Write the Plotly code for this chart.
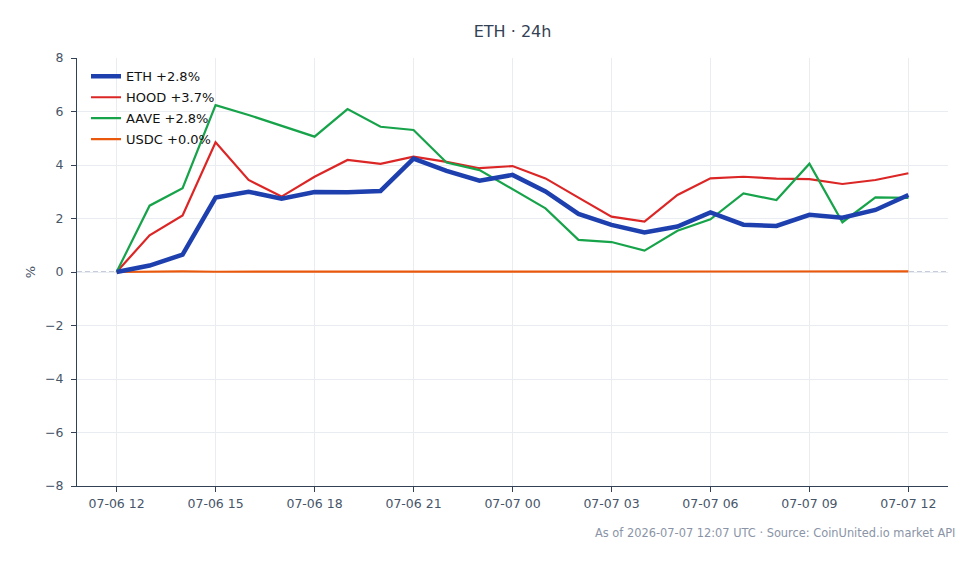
import plotly.graph_objects as go
import pandas as pd

times = pd.date_range("2026-07-06 12:00", "2026-07-07 12:00", freq="1h")

eth = [0.00, 0.24, 0.65, 2.78, 3.00, 2.74, 2.99, 2.98, 3.03, 4.24, 3.78, 3.41, 3.63,
       3.01, 2.17, 1.76, 1.48, 1.70, 2.23, 1.77, 1.72, 2.14, 2.03, 2.32, 2.88]
hood = [0.00, 1.37, 2.11, 4.85, 3.44, 2.82, 3.56, 4.19, 4.04, 4.31, 4.12, 3.88, 3.96,
        3.50, 2.78, 2.07, 1.88, 2.88, 3.50, 3.56, 3.49, 3.47, 3.29, 3.44, 3.69]
aave = [0.00, 2.48, 3.13, 6.24, 5.87, 5.46, 5.06, 6.09, 5.43, 5.31, 4.09, 3.81, 3.10,
        2.38, 1.20, 1.12, 0.80, 1.54, 1.97, 2.94, 2.69, 4.05, 1.86, 2.79, 2.77]
usdc = [0.00, 0.02, 0.02, 0.01, 0.01, 0.01, 0.01, 0.00, 0.00, 0.00, 0.00, 0.00, 0.00,
        0.00, 0.00, 0.00, 0.00, 0.00, 0.00, 0.00, 0.01, 0.01, 0.01, 0.01, 0.02]

names = ["ETH +2.8%", "HOOD +3.7%", "AAVE +2.8%", "USDC +0.0%"]
colors = ["#1e40af", "#dc2626", "#16a34a", "#ea580c"]
widths = [4.5, 2.2, 2.2, 2.2]
series = [eth, hood, aave, usdc]

FONT = "DejaVu Sans"
fig = go.Figure()

# draw ETH last so it sits on top, but keep legend order
draw_order = [1, 2, 3, 0]
for i in draw_order:
    fig.add_trace(go.Scatter(
        x=times, y=series[i], mode="lines", name=names[i],
        line=dict(color=colors[i], width=widths[i]),
        legendrank=i + 1, legendgroup=f"g{i}",
    ))

x0 = times[0] - pd.Timedelta(minutes=72)
x1 = times[-1] + pd.Timedelta(minutes=72)

fig.add_shape(type="line", xref="paper", yref="y", x0=0, x1=1, y0=0, y1=0,
              line=dict(color="#8f9bb0", width=1, dash="5px,3px"), layer="below")

fig.update_layout(
    width=980, height=564,
    margin=dict(l=77, r=32, t=58, b=78),
    paper_bgcolor="white", plot_bgcolor="white",
    font=dict(family=FONT, size=12.5, color="#475569"),
    title=dict(text="ETH · 24h", x=0.523, xanchor="center", y=0.945, yanchor="middle",
               font=dict(family=FONT, size=16, color="#334155")),
    showlegend=True,
    legend=dict(x=9 / 871, y=0.992, xanchor="left", yanchor="top",
                bgcolor="rgba(0,0,0,0)", font=dict(family=FONT, size=13, color="#111111"),
                tracegroupgap=1, itemwidth=30),
    hovermode=False,
)

fig.update_xaxes(
    range=[x0, x1], type="date",
    tick0=times[0], dtick=3 * 3600 * 1000, tickformat="%m-%d %H",
    showgrid=True, gridcolor="#e9edf2", gridwidth=1,
    showline=True, linecolor="#334155", linewidth=1,
    ticks="outside", ticklen=5, tickcolor="#334155",
    tickfont=dict(family=FONT, size=12.5, color="#475569"),
    ticklabelstandoff=1,
    zeroline=False,
)
fig.update_yaxes(
    range=[-8, 8], dtick=2, tickformat="d",
    showgrid=True, gridcolor="#e9edf2", gridwidth=1,
    showline=True, linecolor="#334155", linewidth=1,
    ticks="outside", ticklen=5, tickcolor="#334155",
    tickfont=dict(family=FONT, size=12.5, color="#475569"),
    ticklabelstandoff=5,
    zeroline=False,
    title=dict(text="%", font=dict(family=FONT, size=13, color="#475569"), standoff=6),
)

fig.add_annotation(
    text="As of 2026-07-07 12:07 UTC · Source: CoinUnited.io market API",
    xref="paper", yref="paper", x=1.0 + 9 / 871, y=-47 / 428, xanchor="right", yanchor="middle",
    showarrow=False, font=dict(family=FONT, size=11.4, color="#8a94a6"),
)

fig.write_html("out.html", config={"displayModeBar": False})
